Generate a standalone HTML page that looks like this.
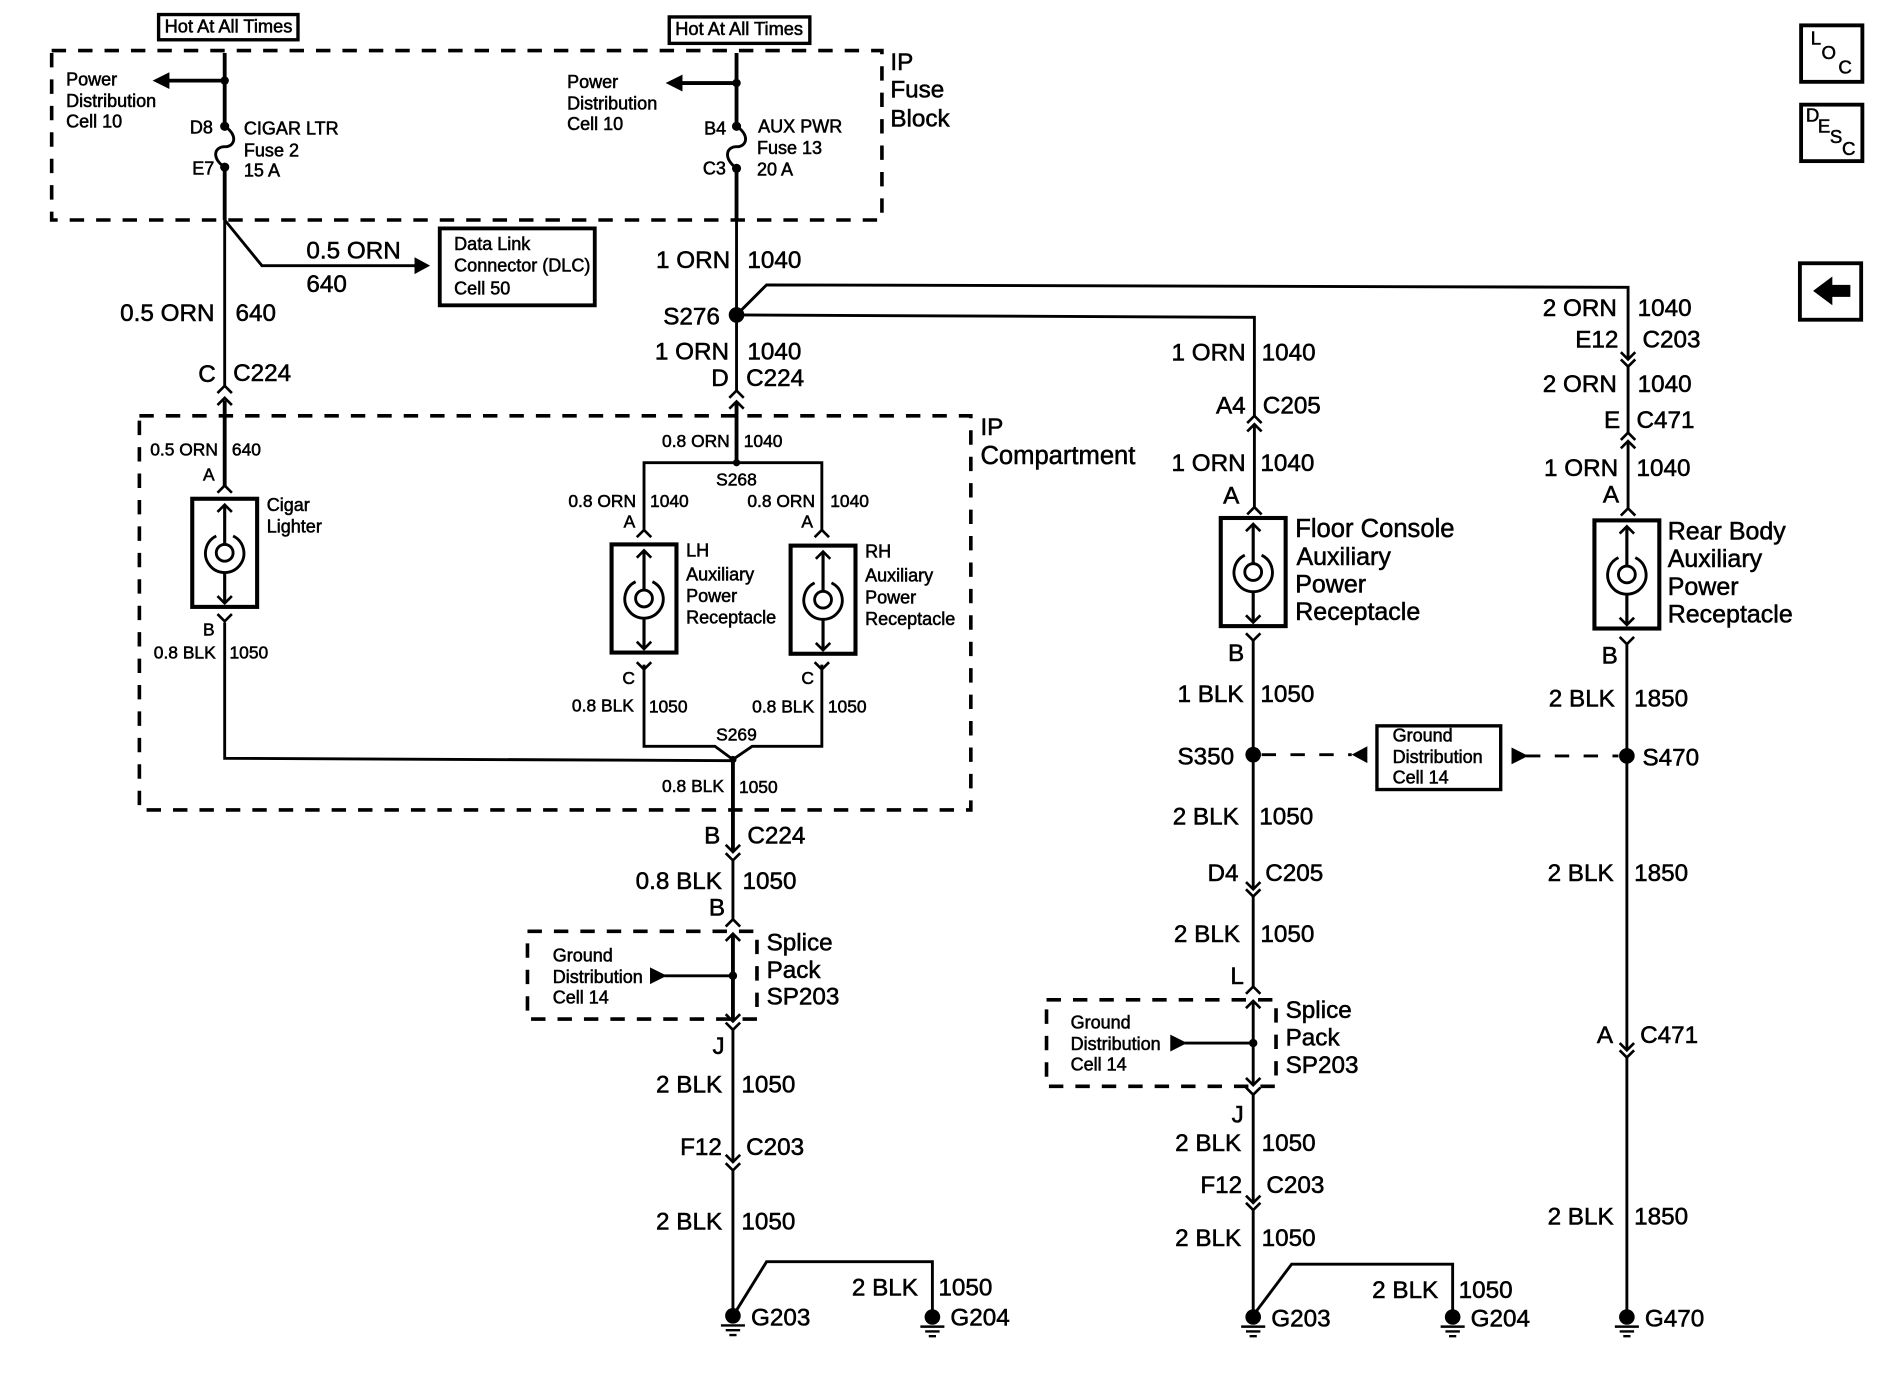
<!DOCTYPE html>
<html><head><meta charset="utf-8"><style>
html,body{margin:0;padding:0;background:#fff;width:1884px;height:1376px;overflow:hidden}
svg{display:block}
text{font-family:"Liberation Sans",sans-serif;fill:#000;stroke:#000;stroke-width:.45}
.l text{font-size:20.2px}
.l text.b{font-size:20.8px}
.l text.c{font-size:21.3px}
.s text{font-size:14.5px}
.m text{font-size:15px}
.h text{font-size:15.2px}
.i text{font-size:15.5px}
.w{fill:none;stroke:#000;stroke-width:2.4}
.t{fill:none;stroke:#000;stroke-width:3.2}
.d{fill:none;stroke:#000;stroke-width:3;stroke-dasharray:12 10}
</style></head><body>
<svg width="1884" height="1376" viewBox="0 0 1568 1145" xmlns="http://www.w3.org/2000/svg">
<defs>
<path id="u" d="M-6 6L0 0L6 6" fill="none" stroke="#000" stroke-width="2.2"/>
<path id="v" d="M-6 -6L0 0L6 -6" fill="none" stroke="#000" stroke-width="2.2"/>
<g id="r">
<rect x="-27" y="-45" width="54" height="90" fill="#fff" stroke="#000" stroke-width="3.4"/>
<path d="M0 -40V-7M0 16V42" stroke="#000" stroke-width="2.6" fill="none"/>
<path d="M-6 -34L0 -40L6 -34M-6 36L0 42L6 36" fill="none" stroke="#000" stroke-width="2.2"/>
<circle r="7" fill="#fff" stroke="#000" stroke-width="2.4"/>
<path d="M-7 -14A16 16 0 1 0 7 -14" fill="none" stroke="#000" stroke-width="2.4"/>
</g>
<g id="g">
<circle r="6.5" fill="#000"/>
<path d="M-10 8H10M-6 12H6M-3 16H3" stroke="#000" stroke-width="2" fill="none"/>
</g>
</defs>

<!-- dashed enclosures -->
<rect class="d" x="43" y="42" width="691" height="141"/>
<rect class="d" x="116" y="346" width="692" height="328"/>
<rect class="d" x="439" y="775" width="191" height="73"/>
<rect class="d" x="871" y="832" width="191" height="72"/>

<!-- solid boxes -->
<g fill="#fff" stroke="#000">
<rect x="132" y="12" width="116" height="21" stroke-width="2.8"/>
<rect x="557" y="14" width="117" height="22" stroke-width="2.8"/>
<rect x="366" y="190" width="129" height="64" stroke-width="3.2"/>
<rect x="1146" y="604" width="103" height="53" stroke-width="2.8"/>
<rect x="1499" y="21" width="51" height="47" stroke-width="3.2"/>
<rect x="1499" y="87" width="51" height="47" stroke-width="3.2"/>
<rect x="1498" y="219" width="51" height="47" stroke-width="3.2"/>
</g>

<!-- column 1 -->
<path class="t" d="M187 44V104M187 140V183M187 333V405"/>
<path class="w" d="M187 183V321M187 518V631L610 633M187 183L218 221H347"/>
<path class="t" d="M187 67H135"/>
<path d="M127 67L141 60V74Z"/>
<path d="M358 221L345 214V228Z"/>
<circle cx="187" cy="67" r="3.5"/><circle cx="187" cy="105" r="3.8"/><circle cx="187" cy="139" r="3.8"/>
<path class="w" d="M187 105C198 112 196 122 187 122C178 122 176 132 187 139"/>
<use href="#u" x="187" y="321"/><use href="#u" x="187" y="331"/>
<use href="#u" x="187" y="404"/><use href="#v" x="187" y="517"/>

<!-- column 2 -->
<path class="t" d="M613 44V104M613 140V183M613 335V385"/>
<path class="w" d="M613 183V325M536 441V385H684V441M536 553V621H595L610 632L626 621H684V553"/>
<path class="t" d="M610 632V708M610 778V850"/>
<path class="w" d="M610 716V765M610 857V967M610 974V1095"/>
<circle cx="610" cy="632" r="3"/>
<circle cx="613" cy="385" r="3"/>
<path class="t" d="M613 69H562"/>
<path d="M554 69L568 62V76Z"/>
<circle cx="613" cy="69" r="3.5"/><circle cx="613" cy="105" r="3.8"/><circle cx="613" cy="140" r="3.8"/>
<path class="w" d="M613 105C624 112 622 122 613 122C604 122 602 132 613 140"/>
<circle cx="613" cy="262" r="6.5"/>
<path class="w" d="M613 262L1044 264V346"/>
<path class="w" d="M613 262L638 237L1355 239V299"/>
<path class="w" d="M612 1092L638 1050H776V1095"/>
<use href="#u" x="613" y="325"/><use href="#u" x="613" y="334"/>
<use href="#u" x="536" y="441"/><use href="#u" x="684" y="441"/>
<use href="#v" x="536" y="557"/><use href="#v" x="684" y="557"/>
<use href="#v" x="610" y="709"/><use href="#v" x="610" y="716"/>
<use href="#u" x="610" y="765"/><use href="#u" x="610" y="777"/>
<use href="#v" x="610" y="850"/><use href="#v" x="610" y="857"/>
<use href="#v" x="610" y="967"/><use href="#v" x="610" y="974"/>

<use href="#r" x="187" y="460"/>
<use href="#r" x="536" y="498"/>
<use href="#r" x="685" y="499"/>
<use href="#r" x="1043" y="476"/>
<use href="#r" x="1354" y="478"/>

<!-- splice 1 -->
<path class="w" d="M553 812H610"/><path d="M541 805L555 812L541 819Z"/><circle cx="610" cy="812" r="3.5"/>

<!-- column 3 -->
<path class="w" d="M1044 353V422M1043 533V740M1043 746V821M1043 834V903M1043 911V1001M1043 1007V1095M1045 1092L1075 1052H1209V1095"/>
<use href="#u" x="1044" y="346"/><use href="#u" x="1044" y="353"/>
<use href="#u" x="1044" y="422"/><use href="#v" x="1043" y="533"/>
<circle cx="1043" cy="628" r="6.5"/>
<path d="M1050 628H1125" stroke="#000" stroke-width="2.4" stroke-dasharray="12 12" fill="none"/>
<path d="M1138 621L1125 628L1138 635Z"/>
<use href="#v" x="1043" y="740"/><use href="#v" x="1043" y="746"/>
<use href="#u" x="1043" y="821"/><use href="#u" x="1043" y="833"/>
<use href="#v" x="1043" y="903"/><use href="#v" x="1043" y="911"/>
<use href="#v" x="1043" y="1001"/><use href="#v" x="1043" y="1007"/>
<path class="w" d="M986 868H1043"/><path d="M974 861L988 868L974 875Z"/><circle cx="1043" cy="868" r="3.5"/>

<!-- column 4 -->
<path class="w" d="M1355 305V360M1355 367V423M1354 536V874M1354 880V1095"/>
<use href="#v" x="1355" y="299"/><use href="#v" x="1355" y="305"/>
<use href="#u" x="1355" y="360"/><use href="#u" x="1355" y="367"/>
<use href="#u" x="1355" y="423"/><use href="#v" x="1354" y="536"/>
<use href="#v" x="1354" y="874"/><use href="#v" x="1354" y="880"/>
<circle cx="1354" cy="629" r="6.5"/>
<path d="M1270 629H1347" stroke="#000" stroke-width="2.4" stroke-dasharray="12 12" fill="none"/>
<path d="M1258 622L1272 629L1258 636Z"/>

<use href="#g" x="610" y="1095"/><use href="#g" x="776" y="1096"/>
<use href="#g" x="1043" y="1096"/><use href="#g" x="1209" y="1096"/>
<use href="#g" x="1354" y="1096"/>

<!-- back arrow -->
<path d="M1509 242L1525 230V237H1540V247H1525V254Z"/>

<!-- icon letters -->
<g class="i">
<text x="1507" y="37">L</text><text x="1516" y="49">O</text><text x="1530" y="61">C</text>
<text x="1503" y="101">D</text><text x="1513" y="110">E</text><text x="1523" y="119">S</text><text x="1533" y="129">C</text>
</g>

<g class="h">
<text x="137" y="27">Hot At All Times</text>
<text x="562" y="29">Hot At All Times</text>
</g>

<g class="s">
<text x="125" y="379">0.5 ORN</text><text x="193" y="379">640</text>
<text x="169" y="400">A</text>
<text x="169" y="529">B</text>
<text x="128" y="548">0.8 BLK</text><text x="191" y="548">1050</text>
<text x="551" y="372">0.8 ORN</text><text x="619" y="372">1040</text>
<text x="596" y="404">S268</text>
<text x="473" y="422">0.8 ORN</text><text x="541" y="422">1040</text>
<text x="622" y="422">0.8 ORN</text><text x="691" y="422">1040</text>
<text x="519" y="439">A</text><text x="667" y="439">A</text>
<text x="518" y="569">C</text><text x="667" y="569">C</text>
<text x="476" y="592">0.8 BLK</text><text x="540" y="593">1050</text>
<text x="626" y="593">0.8 BLK</text><text x="689" y="593">1050</text>
<text x="596" y="616">S269</text>
<text x="551" y="659">0.8 BLK</text><text x="615" y="660">1050</text>
</g>

<g class="m">
<text x="55" y="71">Power</text><text x="55" y="89">Distribution</text><text x="55" y="106">Cell 10</text>
<text x="472" y="73">Power</text><text x="472" y="91">Distribution</text><text x="472" y="108">Cell 10</text>
<text x="158" y="111">D8</text><text x="160" y="145">E7</text>
<text x="203" y="112">CIGAR LTR</text><text x="203" y="130">Fuse 2</text><text x="203" y="147">15 A</text>
<text x="586" y="112">B4</text><text x="585" y="145">C3</text>
<text x="631" y="110">AUX PWR</text><text x="630" y="128">Fuse 13</text><text x="630" y="146">20 A</text>
<text x="378" y="208">Data Link</text><text x="378" y="226">Connector (DLC)</text><text x="378" y="245">Cell 50</text>
<text x="222" y="425">Cigar</text><text x="222" y="443">Lighter</text>
<text x="571" y="463">LH</text><text x="571" y="483">Auxiliary</text><text x="571" y="501">Power</text><text x="571" y="519">Receptacle</text>
<text x="720" y="464">RH</text><text x="720" y="484">Auxiliary</text><text x="720" y="502">Power</text><text x="720" y="520">Receptacle</text>
<text x="460" y="800">Ground</text><text x="460" y="818">Distribution</text><text x="460" y="835">Cell 14</text>
<text x="891" y="856">Ground</text><text x="891" y="874">Distribution</text><text x="891" y="891">Cell 14</text>
<text x="1159" y="617">Ground</text><text x="1159" y="635">Distribution</text><text x="1159" y="652">Cell 14</text>
</g>

<g class="l">
<text x="741" y="58">IP</text><text x="741" y="81">Fuse</text><text x="741" y="105">Block</text>
<text x="816" y="362">IP</text><text x="816" y="386" class="c">Compartment</text>
<text x="255" y="215">0.5 ORN</text><text x="255" y="243">640</text>
<text x="100" y="267">0.5 ORN</text><text x="196" y="267">640</text>
<text x="165" y="318">C</text><text x="194" y="317">C224</text>
<text x="546" y="223">1 ORN</text><text x="622" y="223">1040</text>
<text x="552" y="270">S276</text>
<text x="545" y="299">1 ORN</text><text x="622" y="299">1040</text>
<text x="592" y="321">D</text><text x="621" y="321">C224</text>
<text x="586" y="702">B</text><text x="622" y="702">C224</text>
<text x="529" y="740">0.8 BLK</text><text x="618" y="740">1050</text>
<text x="590" y="762">B</text>
<text x="638" y="791">Splice</text><text x="638" y="814">Pack</text><text x="638" y="836">SP203</text>
<text x="593" y="877">J</text>
<text x="546" y="909">2 BLK</text><text x="617" y="909">1050</text>
<text x="566" y="961">F12</text><text x="621" y="961">C203</text>
<text x="546" y="1023">2 BLK</text><text x="617" y="1023">1050</text>
<text x="709" y="1078">2 BLK</text><text x="781" y="1078">1050</text>
<text x="625" y="1103">G203</text><text x="791" y="1103">G204</text>

<text x="975" y="300">1 ORN</text><text x="1050" y="300">1040</text>
<text x="1012" y="344">A4</text><text x="1051" y="344">C205</text>
<text x="975" y="392">1 ORN</text><text x="1049" y="392">1040</text>
<text x="1018" y="419">A</text>
<text x="1078" y="447" class="c">Floor Console</text><text x="1079" y="470" class="b">Auxiliary</text><text x="1078" y="493" class="b">Power</text><text x="1078" y="516" class="b">Receptacle</text>
<text x="1022" y="550">B</text>
<text x="980" y="584">1 BLK</text><text x="1049" y="584">1050</text>
<text x="980" y="636">S350</text>
<text x="976" y="686">2 BLK</text><text x="1048" y="686">1050</text>
<text x="1005" y="733">D4</text><text x="1053" y="733">C205</text>
<text x="977" y="784">2 BLK</text><text x="1049" y="784">1050</text>
<text x="1024" y="819">L</text>
<text x="1070" y="847">Splice</text><text x="1070" y="870">Pack</text><text x="1070" y="893">SP203</text>
<text x="1025" y="934">J</text>
<text x="978" y="958">2 BLK</text><text x="1050" y="958">1050</text>
<text x="999" y="993">F12</text><text x="1054" y="993">C203</text>
<text x="978" y="1037">2 BLK</text><text x="1050" y="1037">1050</text>
<text x="1142" y="1080">2 BLK</text><text x="1214" y="1080">1050</text>
<text x="1058" y="1104">G203</text><text x="1224" y="1104">G204</text>

<text x="1284" y="263">2 ORN</text><text x="1363" y="263">1040</text>
<text x="1311" y="289">E12</text><text x="1367" y="289">C203</text>
<text x="1284" y="326">2 ORN</text><text x="1363" y="326">1040</text>
<text x="1335" y="356">E</text><text x="1362" y="356">C471</text>
<text x="1285" y="396">1 ORN</text><text x="1362" y="396">1040</text>
<text x="1334" y="418">A</text>
<text x="1388" y="449" class="b">Rear Body</text><text x="1388" y="472" class="b">Auxiliary</text><text x="1388" y="495" class="b">Power</text><text x="1388" y="518" class="b">Receptacle</text>
<text x="1333" y="552">B</text>
<text x="1289" y="588">2 BLK</text><text x="1360" y="588">1850</text>
<text x="1367" y="637">S470</text>
<text x="1288" y="733">2 BLK</text><text x="1360" y="733">1850</text>
<text x="1329" y="868">A</text><text x="1365" y="868">C471</text>
<text x="1288" y="1019">2 BLK</text><text x="1360" y="1019">1850</text>
<text x="1369" y="1104">G470</text>
</g>
</svg>
</body></html>
